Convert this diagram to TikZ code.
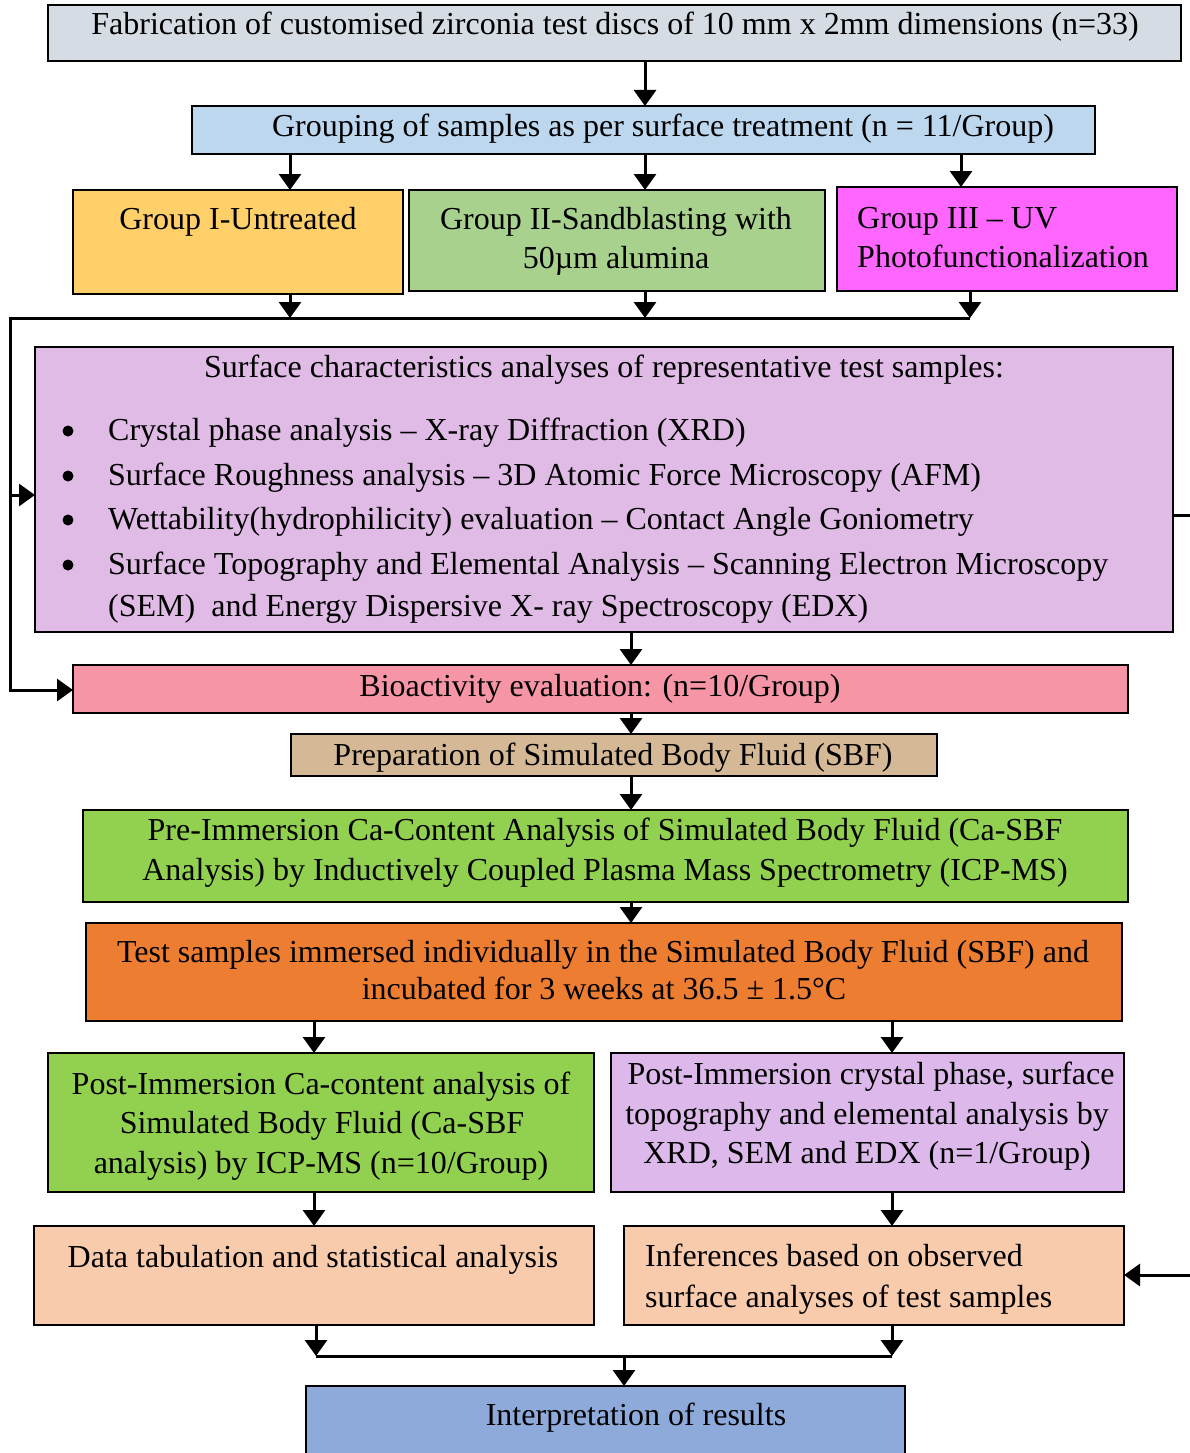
\documentclass[tikz,border=0pt]{standalone}
\usepackage{fontspec}
\setmainfont{Liberation Serif}
\usetikzlibrary{arrows.meta,calc}
\definecolor{cfab}{HTML}{D6DCE4}
\definecolor{cgrp}{HTML}{BDD7EE}
\definecolor{cgone}{HTML}{FFD06A}
\definecolor{cgtwo}{HTML}{A9D18E}
\definecolor{cgthree}{HTML}{FF66FF}
\definecolor{csurf}{HTML}{DFBBE6}
\definecolor{cbio}{HTML}{F595A5}
\definecolor{cprep}{HTML}{D5B996}
\definecolor{cgreen}{HTML}{92D050}
\definecolor{ctest}{HTML}{ED7D31}
\definecolor{cpostcr}{HTML}{DDB8EA}
\definecolor{cpeach}{HTML}{F8CBAD}
\definecolor{cinterp}{HTML}{8EAADB}
\begin{document}
\begin{tikzpicture}[x=1pt,y=-1pt,
  box/.style={draw=black, line width=1.3pt, inner sep=0pt, outer sep=0pt, anchor=north west},
  txt/.style={font=\fontsize{32}{38}\selectfont, inner sep=0pt, anchor=base},
  ltxt/.style={txt, anchor=base west},
  bul/.style={circle, fill=black, inner sep=0pt, minimum size=11pt},
  conn/.style={line width=3pt},
  arr/.style={line width=3pt, -{Triangle[width=22pt,length=16pt]}},
]
\clip (0,0) rectangle (1190,1453);
% boxes
\node[box, fill=cfab, minimum width=1133, minimum height=56] (fab) at (48,5) {};
\node[box, fill=cgrp, minimum width=903, minimum height=48] (grp) at (192,106) {};
\node[box, fill=cgone, minimum width=330, minimum height=104] (g1) at (73,190) {};
\node[box, fill=cgtwo, minimum width=416, minimum height=101] (g2) at (409,190) {};
\node[box, fill=cgthree, minimum width=340, minimum height=104] (g3) at (837,187) {};
\node[box, fill=csurf, minimum width=1138, minimum height=285] (surf) at (35,347) {};
\node[box, fill=cbio, minimum width=1055, minimum height=48] (bio) at (73,665) {};
\node[box, fill=cprep, minimum width=646, minimum height=42] (prep) at (291,734) {};
\node[box, fill=cgreen, minimum width=1045, minimum height=92] (pre) at (83,810) {};
\node[box, fill=ctest, minimum width=1036, minimum height=98] (test) at (86,923) {};
\node[box, fill=cgreen, minimum width=546, minimum height=139] (postca) at (48,1053) {};
\node[box, fill=cpostcr, minimum width=513, minimum height=139] (postcr) at (611,1053) {};
\node[box, fill=cpeach, minimum width=560, minimum height=99] (data) at (34,1226) {};
\node[box, fill=cpeach, minimum width=500, minimum height=99] (inf) at (624,1226) {};
\node[box, fill=cinterp, minimum width=599, minimum height=90] (interp) at (306,1386) {};
% texts
\node[txt] (t1) at (615,35) {Fabrication of customised zirconia test discs of 10 mm x 2mm dimensions (n=33)};
\node[txt] (t2) at (663,136) {Grouping of samples as per surface treatment (n = 11/Group)};
\node[txt] (t3) at (238,229) {Group I-Untreated};
\node[txt] (t4) at (616,229) {Group II-Sandblasting with};
\node[txt] (t5) at (616,268) {50µm alumina};
\node[ltxt] (t6) at (857,228) {Group III – UV};
\node[ltxt] (t7) at (857,267) {Photofunctionalization};
\node[txt] (t8) at (604,377) {Surface characteristics analyses of representative test samples:};
\foreach \yy/\nm in {431/b1,476/b2,520/b3,565/b4}{
  \node[bul] (\nm) at (68,\yy) {};
}
\node[ltxt] (t9) at (108,440) {Crystal phase analysis – X-ray Diffraction (XRD)};
\node[ltxt] (t10) at (108,485) {Surface Roughness analysis – 3D Atomic Force Microscopy (AFM)};
\node[ltxt] (t11) at (108,529) {Wettability(hydrophilicity) evaluation – Contact Angle Goniometry};
\node[ltxt] (t12) at (108,574) {Surface Topography and Elemental Analysis – Scanning Electron Microscopy};
\node[ltxt] (t13) at (108,616) {(SEM)\ \ and Energy Dispersive X- ray Spectroscopy (EDX)};
\node[txt] (t14) at (600,696) {Bioactivity evaluation: (n=10/Group)};
\node[txt] (t15) at (613,765) {Preparation of Simulated Body Fluid (SBF)};
\node[txt] (t16) at (605,840) {Pre-Immersion Ca-Content Analysis of Simulated Body Fluid (Ca-SBF};
\node[txt] (t17) at (605,880) {Analysis) by Inductively Coupled Plasma Mass Spectrometry (ICP-MS)};
\node[txt] (t18) at (603,962) {Test samples immersed individually in the Simulated Body Fluid (SBF) and};
\node[txt] (t19) at (604,999) {incubated for 3 weeks at 36.5 ± 1.5°C};
\node[txt] (t20) at (321,1094) {Post-Immersion Ca-content analysis of};
\node[txt] (t21) at (322,1133) {Simulated Body Fluid (Ca-SBF};
\node[txt] (t22) at (321,1173) {analysis) by ICP-MS (n=10/Group)};
\node[txt] (t23) at (871,1084) {Post-Immersion crystal phase, surface};
\node[txt] (t24) at (867,1124) {topography and elemental analysis by};
\node[txt] (t25) at (867,1163) {XRD, SEM and EDX (n=1/Group)};
\node[txt] (t26) at (313,1267) {Data tabulation and statistical analysis};
\node[ltxt] (t27) at (645,1266) {Inferences based on observed};
\node[ltxt] (t28) at (645,1307) {surface analyses of test samples};
\node[txt] (t29) at (636,1425) {Interpretation of results};
% helper coordinates
\coordinate (xa) at (290,0);
\coordinate (xb) at (645,0);
\coordinate (xc) at (961,0);
\coordinate (xd) at (970,0);
\coordinate (xe) at (314,0);
\coordinate (xf) at (892,0);
\coordinate (xg) at (316,0);
\coordinate (xh) at (624,0);
\coordinate (xm) at (631,0);
\coordinate (corner1) at (10,318);
\coordinate (corner2) at (10,690);
\coordinate (junc) at (10,495);
\coordinate (join1) at (970,318);
\coordinate (edgeR1) at (1190,515);
\coordinate (edgeR2) at (1190,1275);
\coordinate (merge) at (316,1356);
\coordinate (merge2) at (892,1356);
% connectors
\draw[arr] (fab.south -| xb) -- (grp.north -| xb);
\draw[arr] (grp.south -| xa) -- (g1.north -| xa);
\draw[arr] (grp.south -| xb) -- (g2.north -| xb);
\draw[arr] (grp.south -| xc) -- (g3.north -| xc);
\draw[arr] (g1.south -| xa) -- (corner1 -| xa);
\draw[arr] (g2.south -| xb) -- (corner1 -| xb);
\draw[arr] (g3.south -| xd) -- (join1);
\draw[conn, line join=miter] (join1) -- (corner1) -- (corner2);
\draw[arr] (junc) -- (surf.west |- junc);
\draw[arr, line join=miter] (corner1) -- (corner2) -- (bio.west |- corner2);
\draw[conn] (surf.east |- edgeR1) -- (edgeR1);
\draw[arr] (surf.south -| xm) -- (bio.north -| xm);
\draw[arr] (bio.south -| xm) -- (prep.north -| xm);
\draw[arr] (prep.south -| xm) -- (pre.north -| xm);
\draw[arr] (pre.south -| xm) -- (test.north -| xm);
\draw[arr] (test.south -| xe) -- (postca.north -| xe);
\draw[arr] (test.south -| xf) -- (postcr.north -| xf);
\draw[arr] (postca.south -| xe) -- (data.north -| xe);
\draw[arr] (postcr.south -| xf) -- (inf.north -| xf);
\draw[arr] (edgeR2) -- (inf.east |- edgeR2);
\draw[arr] (data.south -| xg) -- (merge);
\draw[arr] (inf.south -| xf) -- (merge2);
\draw[conn] (merge) -- (merge2);
\draw[arr] (merge -| xh) -- (interp.north -| xh);
\end{tikzpicture}
\end{document}
